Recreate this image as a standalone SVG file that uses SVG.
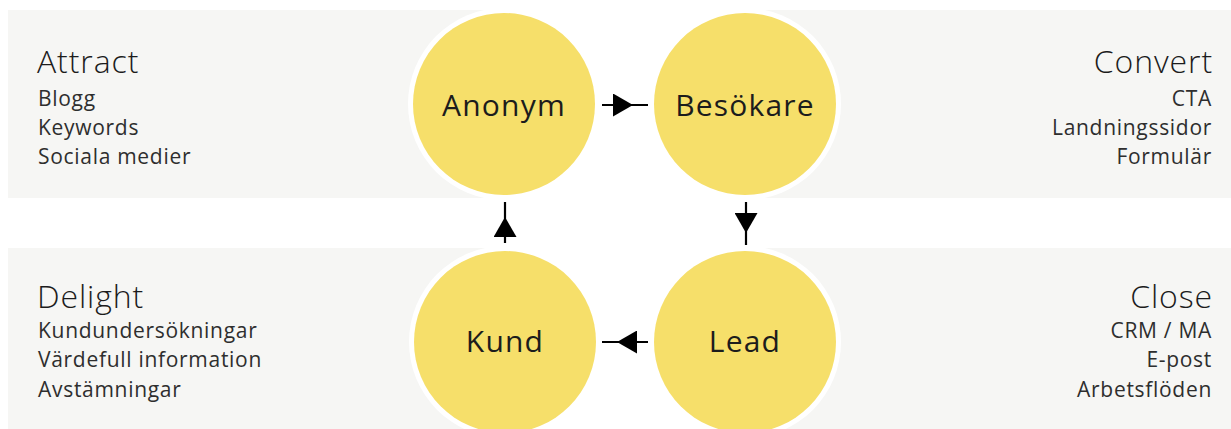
<svg xmlns="http://www.w3.org/2000/svg" width="1231" height="429" viewBox="0 0 1231 429">
  <style>
    .band { fill: #f6f6f4; }
    .ring { fill: #ffffff; }
    .disc { fill: #f6df6a; }
    .node-label { font-family: "Open Sans", Lato, sans-serif; font-size: 30px; letter-spacing: 1.2px; fill: #1c1c1c; text-anchor: middle; }
    .head { font-family: "Open Sans", Lato, sans-serif; font-weight: 300; font-size: 32px; letter-spacing: 0.9px; fill: #1c1c1c; }
    .item { font-family: "Open Sans", Lato, sans-serif; font-size: 21px; letter-spacing: 0.7px; fill: #2e2e2e; }
    .right { text-anchor: end; }
    .flow { stroke: #000; stroke-width: 2.2; fill: none; marker-mid: url(#tri); }
  </style>
  <defs>
    <marker id="tri" markerUnits="userSpaceOnUse" markerWidth="21" markerHeight="23" refX="20" refY="11.5" orient="auto" viewBox="0 0 21 23">
      <path d="M0,0 L20,11.5 L0,23 Z" fill="#000"/>
    </marker>
  </defs>

  <!-- background bands -->
  <g id="bands">
    <rect class="band" x="8" y="10" width="497" height="188"/>
    <rect class="band" x="745" y="10" width="486" height="188"/>
    <rect class="band" x="8" y="248" width="497" height="181"/>
    <rect class="band" x="745" y="248" width="486" height="181"/>
  </g>

  <!-- stage texts -->
  <g id="attract">
    <text class="head" x="37" y="73">Attract</text>
    <text class="item" x="38" y="106">Blogg</text>
    <text class="item" x="38" y="135">Keywords</text>
    <text class="item" x="38" y="164">Sociala medier</text>
  </g>
  <g id="convert">
    <text class="head right" x="1213" y="73">Convert</text>
    <text class="item right" x="1212" y="106">CTA</text>
    <text class="item right" x="1212" y="135">Landningssidor</text>
    <text class="item right" x="1212" y="164">Formulär</text>
  </g>
  <g id="delight">
    <text class="head" x="37" y="308">Delight</text>
    <text class="item" x="38" y="338">Kundundersökningar</text>
    <text class="item" x="38" y="367">Värdefull information</text>
    <text class="item" x="38" y="397">Avstämningar</text>
  </g>
  <g id="close">
    <text class="head right" x="1213" y="308">Close</text>
    <text class="item right" x="1212" y="338">CRM / MA</text>
    <text class="item right" x="1212" y="367">E-post</text>
    <text class="item right" x="1212" y="397">Arbetsflöden</text>
  </g>

  <!-- circle nodes -->
  <g id="anonym">
    <circle class="ring" cx="504" cy="104" r="96"/>
    <circle class="disc" cx="504" cy="104" r="91"/>
    <text class="node-label" x="504" y="116">Anonym</text>
  </g>
  <g id="besokare">
    <circle class="ring" cx="745" cy="104" r="96"/>
    <circle class="disc" cx="745" cy="104" r="91"/>
    <text class="node-label" x="745" y="116">Besökare</text>
  </g>
  <g id="lead">
    <circle class="ring" cx="745" cy="342" r="96"/>
    <circle class="disc" cx="745" cy="342" r="91"/>
    <text class="node-label" x="745" y="352">Lead</text>
  </g>
  <g id="kund">
    <circle class="ring" cx="505" cy="342" r="96"/>
    <circle class="disc" cx="505" cy="342" r="91"/>
    <text class="node-label" x="505" y="352">Kund</text>
  </g>

  <!-- connectors -->
  <g id="connectors">
    <path class="flow" d="M602,105 L633,105 L648,105"/>
    <path class="flow" d="M746,202 L746,233 L746,245"/>
    <path class="flow" d="M648,342 L617,342 L602,342"/>
    <path class="flow" d="M505,243 L505,217 L505,202"/>
  </g>
</svg>
